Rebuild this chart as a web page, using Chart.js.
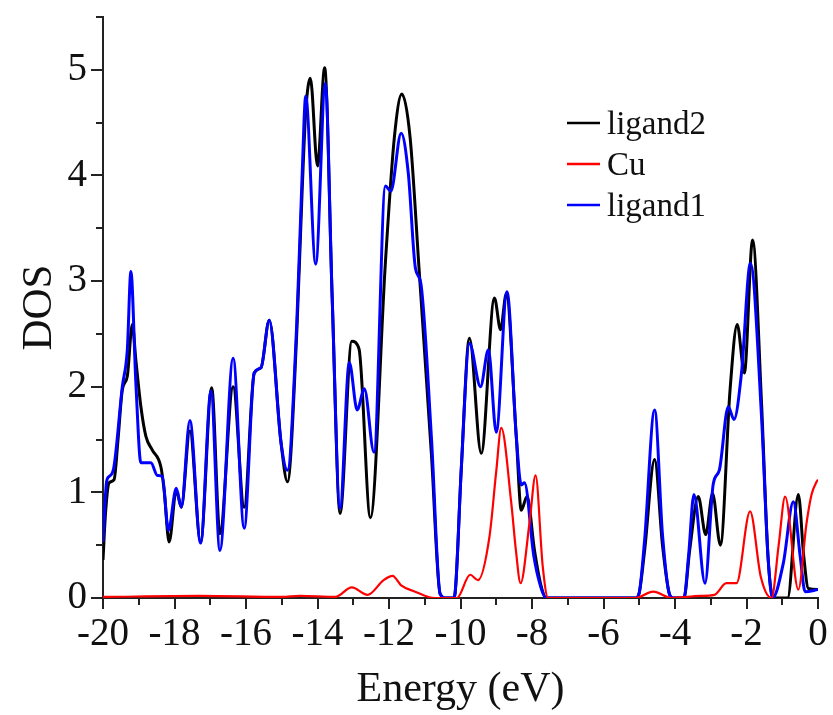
<!DOCTYPE html>
<html>
<head>
<meta charset="utf-8">
<title>DOS</title>
<script src="https://cdn.jsdelivr.net/npm/chart.js@4/dist/chart.umd.min.js"></script>
<style>
  html, body { margin: 0; padding: 0; background: #fff; }
  #wrap { width: 833px; height: 715px; }
</style>
</head>
<body>
<div id="wrap"><canvas id="dos" width="833" height="715"></canvas></div>
<script>
// ligand2 (black)
const ligand2E = [-20.0, -19.93, -19.83, -19.69, -19.58, -19.46, -19.32, -19.18, -19.08, -18.94, -18.80, -18.62,
  -18.38, -18.29, -18.15, -17.95, -17.81, -17.57, -17.27, -16.96, -16.73, -16.36, -16.05, -15.77, -15.58,
  -15.35, -15.02, -14.84, -14.58, -14.43, -14.33, -14.20, -14.0, -13.80, -13.59, -13.37, -13.04, -12.84,
  -12.52, -12.10, -11.85, -11.64, -11.41, -11.16, -10.81, -10.57, -10.4, -10.2, -10.15, -9.98, -9.75, -9.42,
  -9.05, -8.88, -8.72, -8.44, -8.30, -8.14, -7.93, -7.75, -7.6, -5.1, -5.0, -4.85, -4.57, -4.35, -4.15, -4.05,
  -3.75, -3.59, -3.35, -3.14, -2.95, -2.73, -2.46, -2.26, -2.06, -1.83, -1.58, -1.4, -1.25, -0.85, -0.55,
  -0.4, -0.27, 0];
const ligand2DOS = [0.36, 0.8, 1.09, 1.12, 1.5, 1.97, 2.10, 2.59, 2.25, 1.81, 1.53, 1.40,
  1.24, 1.02, 0.53, 1.02, 0.86, 1.58, 0.53, 1.99, 0.61, 2.0, 0.86, 2.13, 2.18,
  2.63, 1.47, 1.10, 2.51, 3.85, 4.6, 4.92, 4.09, 5.02, 2.85, 0.80, 2.43, 2.36,
  0.76, 3.18, 4.36, 4.77, 4.36, 3.12, 1.34, 0.04, 0, 0, 0.05, 1.21, 2.46, 1.37,
  2.84, 2.54, 2.88, 1.53, 0.83, 0.96, 0.45, 0.12, 0, 0, 0.05, 0.45, 1.31, 0.5, 0.03, 0,
  0, 0.45, 0.96, 0.60, 0.99, 0.50, 1.97, 2.59, 2.13, 3.39, 1.85, 0.4, 0, 0, 0.98,
  0.4, 0.09, 0.08];

// Cu (red)
const cuE = [-20.0, -17.3, -15.0, -14.5, -13.5, -13.04, -12.6, -12.15, -11.9, -11.66, -11.27, -10.9, -10.7,
  -10.1, -9.73, -9.51, -9.19, -9.0, -8.86, -8.58, -8.45, -8.32, -8.07, -7.90, -7.7, -7.55,
  -5.1, -4.61, -4.1, -3.3, -2.9, -2.56, -2.28, -1.90, -1.6, -1.30, -1.1, -0.92, -0.55,
  -0.32, -0.18, -0.04, 0];
const cuDOS = [0.01, 0.02, 0.01, 0.02, 0.01, 0.10, 0.03, 0.17, 0.21, 0.12, 0.06, 0.01, 0,
  0, 0.22, 0.17, 0.58, 1.2, 1.61, 0.90, 0.45, 0.14, 0.71, 1.16, 0.3, 0,
  0, 0.06, 0, 0.02, 0.03, 0.14, 0.14, 0.82, 0.2, 0, 0.5, 0.96, 0.08,
  0.71, 0.98, 1.10, 1.12];

// ligand1 (blue)
const ligand1E = [-20.0, -19.9, -19.83, -19.7, -19.46, -19.32, -19.22, -19.08, -18.94, -18.66, -18.48, -18.34,
  -18.17, -17.95, -17.81, -17.57, -17.27, -16.98, -16.73, -16.36, -16.05, -15.77, -15.58, -15.35, -15.02,
  -14.84, -14.58, -14.43, -14.33, -14.05, -13.78, -13.59, -13.37, -13.11, -12.89, -12.69, -12.42, -12.10,
  -11.95, -11.66, -11.46, -11.26, -11.11, -10.81, -10.57, -10.4, -10.2, -10.15, -9.98, -9.75, -9.44, -9.22,
  -9.0, -8.70, -8.44, -8.30, -8.21, -7.95, -7.75, -7.6, -5.1, -5.0, -4.85, -4.57, -4.35, -4.15, -4.05,
  -3.75, -3.62, -3.47, -3.16, -2.93, -2.76, -2.51, -2.35, -2.14, -1.89, -1.58, -1.4, -1.27, -0.97, -0.69,
  -0.5, -0.36, 0];
const ligand1DOS = [0.53, 1.1, 1.15, 1.23, 2.0, 2.35, 3.09, 2.03, 1.28, 1.28, 1.16, 1.15,
  0.64, 1.04, 0.86, 1.68, 0.52, 1.96, 0.45, 2.27, 0.66, 2.13, 2.18, 2.63, 1.47,
  1.21, 2.6, 4.0, 4.75, 3.16, 4.87, 2.85, 0.85, 2.23, 1.78, 1.98, 1.38, 3.90,
  3.85, 4.40, 4.02, 3.12, 2.98, 1.5, 0.04, 0, 0, 0.05, 1.21, 2.41, 2.0, 2.35,
  1.57, 2.90, 1.53, 1.07, 1.09, 0.4, 0.1, 0, 0, 0.05, 0.55, 1.78, 0.6, 0.03, 0,
  0, 0.4, 0.98, 0.14, 1.08, 1.21, 1.81, 1.69, 2.13, 3.17, 1.72, 0.4, 0, 0.33, 0.91,
  0.4, 0.06, 0.08];

const xTicks = [-20, -18, -16, -14, -12, -10, -8, -6, -4, -2, 0];
const yTicks = [0, 1, 2, 3, 4, 5];

const FONT = "'Liberation Serif', 'Times New Roman', serif";

function toPoints(xs, ys) {
    return xs.map((x, i) => ({ x: x, y: ys[i] }));
}

// minor + major tick marks pointing outward
const tickMarks = {
    id: 'tickMarks',
    afterDraw(chart) {
        const { ctx, chartArea, scales } = chart;
        ctx.save();
        ctx.strokeStyle = '#222';
        ctx.lineWidth = 2;
        ctx.beginPath();
        for (let v = -20; v <= 0; v++) {
            const px = Math.round(scales.x.getPixelForValue(v));
            const len = xTicks.includes(v) ? 11 : 7;
            ctx.moveTo(px, chartArea.bottom);
            ctx.lineTo(px, chartArea.bottom + len);
        }
        for (let v = 0; v <= 5.5; v += 0.5) {
            const py = Math.round(scales.y.getPixelForValue(v));
            const len = yTicks.includes(v) ? 12 : 7;
            ctx.moveTo(chartArea.left, py);
            ctx.lineTo(chartArea.left - len, py);
        }
        ctx.stroke();
        ctx.restore();
    }
};

// legend in the upper right of the plot
const inlineLegend = {
    id: 'inlineLegend',
    afterDraw(chart) {
        const ctx = chart.ctx;
        ctx.save();
        ctx.font = '33px ' + FONT;
        ctx.textBaseline = 'middle';
        chart.data.datasets.forEach((ds, i) => {
            const y = 123 + i * 41;
            ctx.strokeStyle = ds.borderColor;
            ctx.lineWidth = 2.5;
            ctx.beginPath();
            ctx.moveTo(567, y);
            ctx.lineTo(600, y);
            ctx.stroke();
            ctx.fillStyle = '#111';
            ctx.fillText(ds.label, 607, y + 2);
        });
        ctx.restore();
    }
};

const ctx = document.getElementById('dos').getContext('2d');
new Chart(ctx, {
    type: 'line',
    data: {
        datasets: [
            { label: 'ligand2', data: toPoints(ligand2E, ligand2DOS), borderColor: '#000000', borderWidth: 3, order: 3 },
            { label: 'Cu', data: toPoints(cuE, cuDOS), borderColor: '#ff0000', borderWidth: 2.2, order: 1 },
            { label: 'ligand1', data: toPoints(ligand1E, ligand1DOS), borderColor: '#0000ff', borderWidth: 3, order: 2 }
        ]
    },
    options: {
        responsive: false,
        animation: false,
        devicePixelRatio: 1,
        layout: { padding: { top: 17, right: 15, left: 0, bottom: 0 } },
        elements: {
            point: { radius: 0 },
            line: { cubicInterpolationMode: 'monotone', fill: false }
        },
        plugins: {
            legend: { display: false },
            tooltip: { enabled: false }
        },
        scales: {
            x: {
                type: 'linear',
                min: -20,
                max: 0,
                afterFit: (scale) => {
                    scale.height = 117;
                    scale.paddingLeft = 0;
                    scale.paddingRight = 0;
                },
                border: { display: true, color: '#222', width: 2 },
                grid: { display: true, drawOnChartArea: false, drawTicks: false },
                ticks: {
                    stepSize: 2,
                    padding: 13,
                    color: '#111',
                    font: { family: FONT, size: 39 },
                    maxRotation: 0
                },
                title: {
                    display: true,
                    text: 'Energy (eV)',
                    color: '#111',
                    font: { family: FONT, size: 42 },
                    padding: { top: 0, bottom: 0 }
                }
            },
            y: {
                min: 0,
                max: 5.5,
                afterFit: (scale) => {
                    scale.width = 103;
                    scale.paddingTop = 0;
                    scale.paddingBottom = 0;
                },
                border: { display: true, color: '#222', width: 2 },
                grid: { display: true, drawOnChartArea: false, drawTicks: false },
                ticks: {
                    stepSize: 1,
                    includeBounds: false,
                    padding: 16,
                    color: '#111',
                    font: { family: FONT, size: 39 }
                },
                title: {
                    display: true,
                    text: 'DOS',
                    color: '#111',
                    font: { family: FONT, size: 43 },
                    padding: { top: 14, bottom: 0 }
                }
            }
        }
    },
    plugins: [tickMarks, inlineLegend]
});
</script>
</body>
</html>
